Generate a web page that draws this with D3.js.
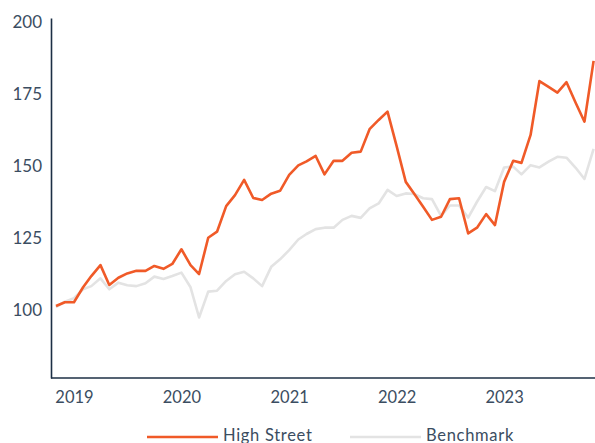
<!DOCTYPE html>
<html>
<head>
<meta charset="utf-8">
<script src="https://cdn.jsdelivr.net/npm/d3@7"></script>
<style>
  html, body { margin: 0; padding: 0; background: #fff; }
  #chart { width: 595px; height: 443px; overflow: hidden; }
  text { font-family: Lato, "Open Sans", sans-serif; fill: #3b4d61; font-weight: 400; }
</style>
</head>
<body>
<div id="chart"></div>
<script>
// monthly index values, Nov 2018 - Nov 2023
const months = [
  "2018-11","2018-12",
  "2019-01","2019-02","2019-03","2019-04","2019-05","2019-06","2019-07","2019-08","2019-09","2019-10","2019-11","2019-12",
  "2020-01","2020-02","2020-03","2020-04","2020-05","2020-06","2020-07","2020-08","2020-09","2020-10","2020-11","2020-12",
  "2021-01","2021-02","2021-03","2021-04","2021-05","2021-06","2021-07","2021-08","2021-09","2021-10","2021-11","2021-12",
  "2022-01","2022-02","2022-03","2022-04","2022-05","2022-06","2022-07","2022-08","2022-09","2022-10","2022-11","2022-12",
  "2023-01","2023-02","2023-03","2023-04","2023-05","2023-06","2023-07","2023-08","2023-09","2023-10","2023-11"
];

const highStreet = [
  101.4, 102.7,
  102.7, 107.9, 111.8, 115.6, 108.7, 111.2, 112.7, 113.6, 113.6, 115.3, 114.3, 116.0,
  121.1, 115.6, 112.5, 125.1, 127.2, 136.1, 139.9, 145.2, 138.9, 138.2, 140.4, 141.4,
  146.9, 150.2, 151.6, 153.5, 147.1, 151.8, 151.8, 154.6, 155.0, 162.8, 166.0, 168.9,
  156.9, 144.5, 140.5, 135.9, 131.3, 132.4, 138.5, 138.8, 126.6, 128.6, 133.3, 129.5,
  144.5, 151.8, 151.1, 160.8, 179.5, 177.5, 175.5, 179.1, 172.0, 165.4, 186.5
];

const benchmark = [
  101.0, 102.9,
  104.1, 107.2, 108.3, 111.0, 107.2, 109.5, 108.6, 108.3, 109.3, 111.6, 110.8, 111.8,
  113.0, 107.9, 97.4, 106.4, 106.7, 110.1, 112.4, 113.3, 111.0, 108.3, 115.0, 117.6,
  120.8, 124.5, 126.4, 128.1, 128.6, 128.6, 131.3, 132.7, 132.0, 135.3, 137.0, 141.7,
  139.6, 140.5, 140.3, 138.8, 138.5, 132.7, 136.3, 136.3, 132.1, 137.6, 142.7, 141.3,
  149.5, 149.8, 147.1, 150.3, 149.5, 151.5, 153.2, 152.9, 149.4, 145.5, 156.0
];

const yTicks = [100, 125, 150, 175, 200];
const xTickLabels = ["2019", "2020", "2021", "2022", "2023"];
const seriesNames = ["High Street", "Benchmark"];
const seriesColors = ["#f05a28", "#e3e3e3"];

const parseMonth = d3.timeParse("%Y-%m");
const dates = months.map(parseMonth);

const width = 595, height = 443;

const svg = d3.select("#chart")
  .append("svg")
  .attr("width", width)
  .attr("height", height);

const x = d3.scaleTime()
  .domain([dates[0], dates[dates.length - 1]])
  .range([56, 593.6]);

const y = d3.scaleLinear()
  .domain([76.4, 201.4])
  .range([378, 18]);

// lines (benchmark under high street)
const line = d3.line()
  .x((d, i) => x(dates[i]))
  .y(d => y(d));

svg.append("path")
  .datum(benchmark)
  .attr("fill", "none")
  .attr("stroke", seriesColors[1])
  .attr("stroke-width", 2.6)
  .attr("stroke-linejoin", "round")
  .attr("d", line);

svg.append("path")
  .datum(highStreet)
  .attr("fill", "none")
  .attr("stroke", seriesColors[0])
  .attr("stroke-width", 2.6)
  .attr("stroke-linejoin", "round")
  .attr("d", line);

// y axis
const yAxis = svg.append("g")
  .attr("transform", "translate(51,0)")
  .call(d3.axisLeft(y).tickValues(yTicks).tickSize(0).tickPadding(9));
yAxis.select(".domain").attr("stroke", "#1c2f45").attr("stroke-width", 1.6);
yAxis.selectAll("text")
  .style("font-size", "17px")
  .style("fill", "#3b4d61");

// x axis
const xAxis = svg.append("g")
  .attr("transform", "translate(0,378)")
  .call(d3.axisBottom(x)
    .tickValues(xTickLabels.map(d => new Date(+d, 0, 1)))
    .tickFormat(d3.timeFormat("%Y"))
    .tickSize(0)
    .tickPadding(13));
xAxis.select(".domain")
  .attr("d", "M51,0H595")
  .attr("stroke", "#1c2f45")
  .attr("stroke-width", 1.6);
xAxis.selectAll("text")
  .style("font-size", "16.5px")
  .style("fill", "#3b4d61");

// legend
const legendX = [147, 350];
const legend = svg.selectAll(".legend")
  .data(seriesNames)
  .enter()
  .append("g")
  .attr("class", "legend")
  .attr("transform", (d, i) => `translate(${legendX[i]},437)`);

legend.append("line")
  .attr("x1", 0)
  .attr("x2", 71)
  .attr("stroke", (d, i) => seriesColors[i])
  .attr("stroke-width", 2.6);

legend.append("text")
  .attr("x", 76)
  .attr("y", 4)
  .style("font-size", "16.5px")
  .style("letter-spacing", "0.7px")
  .text(d => d);
</script>
</body>
</html>
